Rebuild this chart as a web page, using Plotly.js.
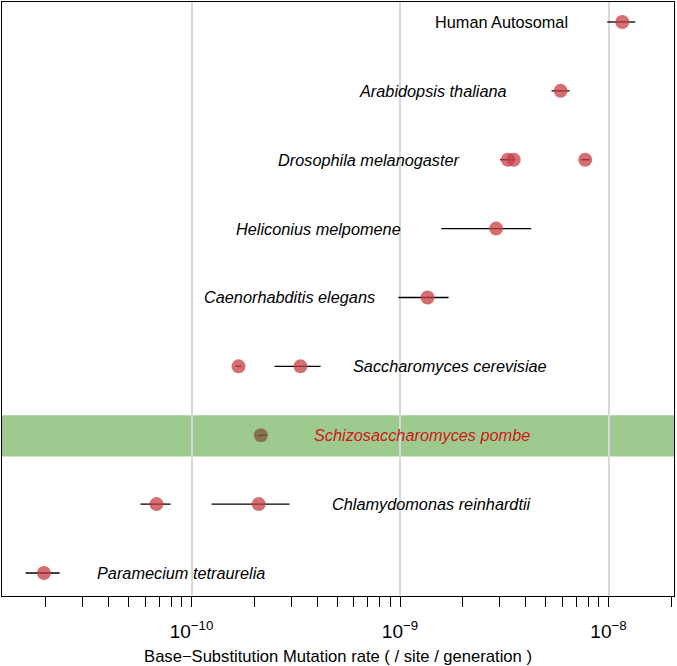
<!DOCTYPE html>
<html>
<head>
<meta charset="utf-8">
<script src="https://cdn.plot.ly/plotly-3.0.1.min.js"></script>
<style>
  html, body { margin: 0; padding: 0; background: #fff; }
  #chart { width: 677px; height: 666px; }
</style>
</head>
<body>
<div id="chart"></div>
<script>
// ---- Data ----
// Row index: 9 = top (Human Autosomal) ... 1 = bottom (Paramecium)
const pointRow  = [9, 8, 7, 7, 7, 6, 5, 4, 4, 3, 2, 2, 1];
const rate      = [1.164e-8, 5.89e-9, 3.29e-9, 3.51e-9, 7.73e-9, 2.89e-9, 1.355e-9, 1.68e-10, 3.33e-10, 2.15e-10, 6.79e-11, 2.10e-10, 1.96e-11];
const rateLow   = [9.86e-9, 5.33e-9, 3.02e-9, 3.46e-9, 7.40e-9, 1.576e-9, 9.83e-10, 1.626e-10, 2.50e-10, 2.08e-10, 5.69e-11, 1.247e-10, 1.60e-11];
const rateHigh  = [1.343e-8, 6.50e-9, 3.51e-9, 3.56e-9, 8.11e-9, 4.26e-9, 1.709e-9, 1.737e-10, 4.16e-10, 2.28e-10, 7.93e-11, 2.95e-10, 2.33e-11];
const isPombe   = [false, false, false, false, false, false, false, false, false, true, false, false, false];

const speciesLabels = ['Human Autosomal', 'Arabidopsis thaliana', 'Drosophila melanogaster', 'Heliconius melpomene',
                       'Caenorhabditis elegans', 'Saccharomyces cerevisiae', 'Schizosaccharomyces pombe',
                       'Chlamydomonas reinhardtii', 'Paramecium tetraurelia'];
const speciesRow    = [9, 8, 7, 6, 5, 4, 3, 2, 1];
const speciesItalic = [false, true, true, true, true, true, true, true, true];

// Label anchor (x value on the rate axis) and alignment – layout only
const labelAnchor = [6.55e-9, 3.33e-9, 1.99e-9, 1.035e-9, 7.76e-10, 5.85e-10, 3.80e-10, 4.63e-10, 3.45e-11];
const labelAlign  = ['right', 'right', 'right', 'right', 'right', 'left', 'left', 'left', 'left'];

const majorTicks = [1e-10, 1e-9, 1e-8];
const majorTickText = ['10<sup>\u221210</sup>', '10<sup>\u22129</sup>', '10<sup>\u22128</sup>'];
const minorTicks = [2e-11,3e-11,4e-11,5e-11,6e-11,7e-11,8e-11,9e-11,
                    2e-10,3e-10,4e-10,5e-10,6e-10,7e-10,8e-10,9e-10,
                    2e-9,3e-9,4e-9,5e-9,6e-9,7e-9,8e-9,9e-9,2e-8];

const highlightRow = 3;

// ---- Build ----
const trace = {
  type: 'scatter',
  mode: 'markers',
  x: rate,
  y: pointRow,
  marker: {
    size: 14,
    color: isPombe.map(p => p ? 'rgba(128,92,58,0.78)' : 'rgba(198,62,68,0.75)'),
    line: { width: 0 }
  },
  error_x: {
    type: 'data',
    symmetric: false,
    array: rate.map((v, i) => rateHigh[i] - v),
    arrayminus: rate.map((v, i) => v - rateLow[i]),
    color: '#000000',
    thickness: 1.3,
    width: 0
  },
  hoverinfo: 'skip',
  showlegend: false
};

const annotations = speciesLabels.map((s, i) => ({
  x: Math.log10(labelAnchor[i]),
  y: speciesRow[i],
  xref: 'x', yref: 'y',
  text: speciesItalic[i] ? '<i>' + s + '</i>' : s,
  showarrow: false,
  xanchor: labelAlign[i],
  yanchor: 'middle',
  font: { family: 'Arial, "Liberation Sans", sans-serif', size: 16.3,
          color: speciesRow[i] === highlightRow ? '#cc1a1a' : '#000000' }
}));

const layout = {
  width: 677, height: 666,
  margin: { l: 2, r: 3, t: 2, b: 70 },
  paper_bgcolor: '#ffffff',
  plot_bgcolor: '#ffffff',
  font: { family: 'Arial, "Liberation Sans", sans-serif', color: '#000' },
  xaxis: {
    type: 'log',
    range: [-10.909, -7.686],
    tickmode: 'array',
    tickvals: majorTicks,
    ticktext: majorTickText,
    ticks: 'outside', ticklen: 10, tickwidth: 1, tickcolor: '#000',
    tickfont: { size: 19, family: 'Arial, "Liberation Sans", sans-serif' },
    ticklabelstandoff: 8,
    showgrid: true, gridcolor: '#d8d8d8', gridwidth: 2,
    minor: { tickmode: 'array', tickvals: minorTicks, ticks: 'outside', ticklen: 10,
             tickwidth: 1, tickcolor: '#000', showgrid: false },
    showline: true, mirror: true, linecolor: '#000', linewidth: 1,
    zeroline: false,
    title: { text: 'Base\u2212Substitution Mutation rate ( / site / generation )',
             font: { size: 16.6, family: 'Arial, "Liberation Sans", sans-serif' }, standoff: 12 }
  },
  yaxis: {
    range: [0.666, 9.29],
    showticklabels: false, ticks: '', showgrid: false, zeroline: false,
    showline: true, mirror: true, linecolor: '#000', linewidth: 1
  },
  shapes: [{
    type: 'rect', xref: 'paper', yref: 'y',
    x0: 0, x1: 1, y0: highlightRow - 0.31, y1: highlightRow + 0.29,
    fillcolor: 'rgb(158,201,143)', line: { width: 0 }, layer: 'below'
  }],
  annotations: annotations
};

Plotly.newPlot('chart', [trace], layout, { staticPlot: true, displayModeBar: false });
</script>
</body>
</html>
